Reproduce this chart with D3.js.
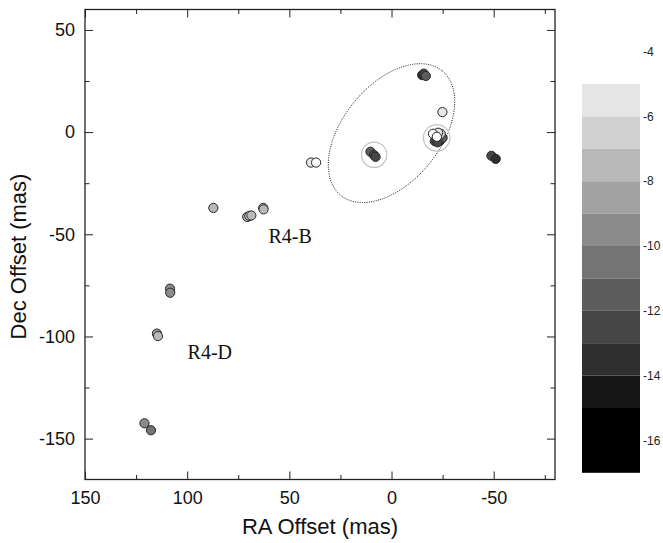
<!DOCTYPE html>
<html>
<head>
<meta charset="utf-8">
<script src="https://cdn.jsdelivr.net/npm/d3@7"></script>
<style>
  html, body { margin: 0; padding: 0; background: #fff; }
  svg { display: block; }
</style>
</head>
<body>
<svg id="chart" width="663" height="543"></svg>
<script>
// Spot positions: RA offset (mas), Dec offset (mas), velocity (km/s)
const spotRA = [
  120.9, 117.7,
  108.4, 108.3,
  114.8, 114.3,
  87.2,
  70.6, 69.6, 68.6,
  62.8, 62.6,
  39.4, 36.9,
  10.3, 8.6, 7.8,
  -15.0, -15.8, -16.8,
  -24.9,
  -21.2, -23.6, -25.0, -22.5, -24.1, -22.8, -20.3, -22.2,
  -48.9, -51.0
];
const spotDec = [
  -142.5, -145.9,
  -76.6, -78.6,
  -98.6, -99.8,
  -37.1,
  -41.5, -41.0, -40.8,
  -37.1, -37.8,
  -14.9, -14.9,
  -9.6, -11.2, -12.1,
  27.9, 28.6, 27.5,
  9.8,
  -4.4, -4.3, -2.8, -5.0, -0.8, -0.3, -0.8, -2.3,
  -11.6, -13.1
];
const spotVel = [
  -9.6, -10.4,
  -9.5, -9.8,
  -8.5, -7.5,
  -7.5,
  -7.5, -6.5, -7.5,
  -7.5, -7.5,
  -5.5, -4.5,
  -11.5, -12.5, -12.5,
  -13.5, -12.5, -11.5,
  -5.5,
  -12.5, -13.5, -11.5, -12.5, -6.5, -5.5, -4.5, -4.5,
  -12.5, -13.5
];

// Colour bar: band edges (km/s) and grey level of each band
const barEdges = [-4, -5, -6, -7, -8, -9, -10, -11, -12, -13, -14, -15, -17];
const barGreys = ["#ffffff", "#e6e6e6", "#d1d1d1", "#b9b9b9", "#a2a2a2", "#8b8b8b",
                  "#747474", "#5d5d5d", "#464646", "#2e2e2e", "#171717", "#000000"];
const barTicks = [-4, -6, -8, -10, -12, -14, -16];

// Axis ticks
const raTicks = [150, 100, 50, 0, -50];
const raMinor = [125, 75, 25, -25, -75];
const decTicks = [50, 0, -50, -100, -150];
const decMinor = [25, -25, -75, -125];

// Ring markers around two spot groups: RA, Dec, radius (mas)
const ringRA = [8.5, -22.1];
const ringDec = [-11.1, -2.8];
const ringR = [6.2, 6.5];

// Fitted ellipse: centre RA, Dec, semi-axes (mas), position angle (deg from +RA)
const ellCentre = [0, -0.5];
const ellAxes = [39.3, 23.8];
const ellAngle = 129.2;

// Region labels
const regionNames = ["R4-B", "R4-D"];
const regionRA = [60.2, 99.8];
const regionDec = [-54.4, -111.0];

const svg = d3.select("#chart");
const pLeft = 85, pRight = 555, pTop = 9.5, pBottom = 479.5;

const x = d3.scaleLinear().domain([150, -80]).range([pLeft, pRight]);
const y = d3.scaleLinear().domain([-170, 60]).range([pBottom, pTop]);

const fmt = d => String(d);
const axisColor = "#222";
const tickFont = "Liberation Sans, Arial, sans-serif";

function styleAxis(g) {
  g.select(".domain").remove();
  g.selectAll(".tick line").attr("stroke", axisColor).attr("stroke-width", 1);
  g.selectAll("text").attr("fill", "#111").style("font-family", tickFont).style("font-size", "18px");
}

// Bottom axis with labels, ticks pointing inward
svg.append("g").attr("transform", `translate(0,${pBottom})`)
  .call(d3.axisBottom(x).tickValues(raTicks).tickFormat(fmt).tickSizeInner(-8).tickSizeOuter(0).tickPadding(12))
  .call(styleAxis);
svg.append("g").attr("transform", `translate(0,${pBottom})`)
  .call(d3.axisBottom(x).tickValues(raMinor).tickFormat("").tickSizeInner(-4.5).tickSizeOuter(0))
  .call(styleAxis);
// Top mirror ticks
svg.append("g").attr("transform", `translate(0,${pTop})`)
  .call(d3.axisTop(x).tickValues(raTicks).tickFormat("").tickSizeInner(-8).tickSizeOuter(0))
  .call(styleAxis);
svg.append("g").attr("transform", `translate(0,${pTop})`)
  .call(d3.axisTop(x).tickValues(raMinor).tickFormat("").tickSizeInner(-4.5).tickSizeOuter(0))
  .call(styleAxis);
// Left axis with labels
svg.append("g").attr("transform", `translate(${pLeft},0)`)
  .call(d3.axisLeft(y).tickValues(decTicks).tickFormat(fmt).tickSizeInner(-8).tickSizeOuter(0).tickPadding(10))
  .call(styleAxis);
svg.append("g").attr("transform", `translate(${pLeft},0)`)
  .call(d3.axisLeft(y).tickValues(decMinor).tickFormat("").tickSizeInner(-4.5).tickSizeOuter(0))
  .call(styleAxis);
// Right mirror ticks
svg.append("g").attr("transform", `translate(${pRight},0)`)
  .call(d3.axisRight(y).tickValues(decTicks).tickFormat("").tickSizeInner(-8).tickSizeOuter(0))
  .call(styleAxis);
svg.append("g").attr("transform", `translate(${pRight},0)`)
  .call(d3.axisRight(y).tickValues(decMinor).tickFormat("").tickSizeInner(-4.5).tickSizeOuter(0))
  .call(styleAxis);

// Frame
svg.append("rect")
  .attr("x", pLeft).attr("y", pTop)
  .attr("width", pRight - pLeft).attr("height", pBottom - pTop)
  .attr("fill", "none").attr("stroke", axisColor).attr("stroke-width", 1.3);

// Axis titles
svg.append("text")
  .attr("x", (pLeft + pRight) / 2).attr("y", 534)
  .attr("text-anchor", "middle")
  .style("font-family", tickFont).style("font-size", "22px").attr("fill", "#111")
  .text("RA Offset (mas)");
svg.append("text")
  .attr("transform", `translate(26,256.5) rotate(-90)`)
  .attr("text-anchor", "middle")
  .style("font-family", tickFont).style("font-size", "22px").attr("fill", "#111")
  .text("Dec Offset (mas)");

// Velocity to grey
const grey = d3.scaleThreshold()
  .domain(barEdges.slice(1, -1).slice().reverse())
  .range(barGreys.slice().reverse());

// Ellipse outline
const ellPts = d3.range(0, 361, 2).map(t => {
  const th = t * Math.PI / 180, ph = ellAngle * Math.PI / 180;
  const u = ellAxes[0] * Math.cos(th), v = ellAxes[1] * Math.sin(th);
  return [ellCentre[0] + u * Math.cos(ph) - v * Math.sin(ph),
          ellCentre[1] + u * Math.sin(ph) + v * Math.cos(ph)];
});
svg.append("path")
  .attr("d", d3.line().x(d => x(d[0])).y(d => y(d[1])).curve(d3.curveLinearClosed)(ellPts))
  .attr("fill", "none").attr("stroke", "#1a1a1a").attr("stroke-width", 1)
  .attr("stroke-dasharray", "1,1.3");

// Rings
svg.selectAll("circle.ring").data(ringRA).join("circle")
  .attr("class", "ring")
  .attr("cx", (d, i) => x(d)).attr("cy", (d, i) => y(ringDec[i]))
  .attr("r", (d, i) => Math.abs(x(ringR[i]) - x(0)))
  .attr("fill", "none").attr("stroke", "#c4c4c4").attr("stroke-width", 1.2);

// Spots
svg.selectAll("circle.spot").data(spotRA).join("circle")
  .attr("class", "spot")
  .attr("cx", d => x(d)).attr("cy", (d, i) => y(spotDec[i]))
  .attr("r", 4.6)
  .attr("fill", (d, i) => grey(spotVel[i]))
  .attr("stroke", "#262626").attr("stroke-width", 1);

// Region labels
svg.selectAll("text.region").data(regionNames).join("text")
  .attr("class", "region")
  .attr("x", (d, i) => x(regionRA[i])).attr("y", (d, i) => y(regionDec[i]))
  .style("font-family", "Liberation Serif, Times New Roman, serif").style("font-size", "20px")
  .attr("fill", "#111")
  .text(d => d);

// Colour bar
const cb = d3.scaleLinear().domain([-5, -17]).range([84, 472.8]);
const bands = barGreys.map((c, i) => ({ hi: barEdges[i], lo: barEdges[i + 1], c }));
svg.selectAll("rect.band").data(bands).join("rect")
  .attr("class", "band")
  .attr("x", 582).attr("width", 58)
  .attr("y", d => cb(d.hi)).attr("height", d => cb(d.lo) - cb(d.hi))
  .attr("fill", d => d.c);
svg.selectAll("text.cbl").data(barTicks).join("text")
  .attr("class", "cbl")
  .attr("x", 643).attr("y", d => cb(d)).attr("dy", "0.35em")
  .style("font-family", tickFont).style("font-size", "12px").attr("fill", "#222")
  .text(fmt);
</script>
</body>
</html>
